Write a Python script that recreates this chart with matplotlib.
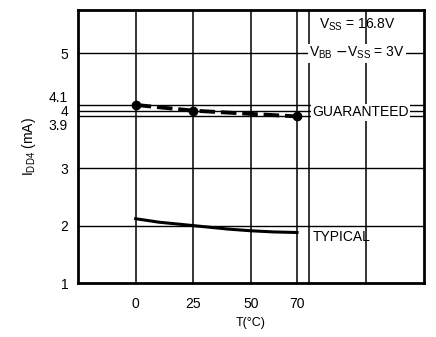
import matplotlib.pyplot as plt
import numpy as np

plt.rcParams['font.family'] = ['Liberation Sans', 'DejaVu Sans']

# data
temp = [0, 25, 70]
guaranteed = [4.1, 4.0, 3.9]
temp_typ = [0, 10, 25, 40, 50, 60, 70]
typical = [2.12, 2.06, 2.0, 1.94, 1.91, 1.89, 1.88]
xticks = [0, 25, 50, 70]
yticks = [1, 2, 3, 4, 5]
yextra = [4.1, 3.9]

fig = plt.figure(figsize=(4.36, 3.37), dpi=100)
ax = fig.add_axes([0.179, 0.160, 0.793, 0.810])

ax.set_xlim(-25, 125)
ax.set_ylim(1, 5.75)

# grid
for x in [0, 25, 50, 70, 75, 100]:
    ax.axvline(x, color='black', lw=1.1, zorder=1)
for y in [2, 3, 3.9, 4, 4.1, 5]:
    ax.axhline(y, color='black', lw=1.0, zorder=1)

ax.plot(temp, guaranteed, color='black', lw=2.8, ls=(0, (4, 1.5)), zorder=3)
ax.plot(temp, guaranteed, 'o', color='black', ms=6, zorder=4)
ax.plot(temp_typ, typical, color='black', lw=2.2, zorder=3)

ax.set_xticks(xticks)
ax.set_yticks(yticks)
ax.tick_params(length=0, labelsize=10, pad=7)
ax.tick_params(axis='x', pad=10)
for s in ax.spines.values():
    s.set_linewidth(2)

# labels 4.1 and 3.9 spread out around 4 like the original
tr = ax.get_yaxis_transform()
ax.text(-0.03, 4.22, '4.1', transform=tr, fontsize=10, ha='right', va='center')
ax.text(-0.03, 3.73, '3.9', transform=tr, fontsize=10, ha='right', va='center')

ax.set_xlabel('T(°C)', fontsize=9, labelpad=4)
ax.set_ylabel('I$_{\\mathregular{DD4}}$ (mA)', fontsize=10, labelpad=16)

box = dict(facecolor='white', edgecolor='none', pad=1)
ax.text(96, 5.5, 'V$_{\\mathregular{SS}}$ = 16.8V', fontsize=10, ha='center', va='center')
ax.text(96, 5.0, 'V$_{\\mathregular{BB}}$ $-$V$_{\\mathregular{SS}}$ = 3V', fontsize=10,
        ha='center', va='center', bbox=box)
ax.text(76.5, 3.97, 'GUARANTEED', fontsize=10, ha='left', va='center', bbox=box)
ax.text(77, 1.8, 'TYPICAL', fontsize=10, ha='left', va='center')

plt.savefig('out.png', dpi=100)
